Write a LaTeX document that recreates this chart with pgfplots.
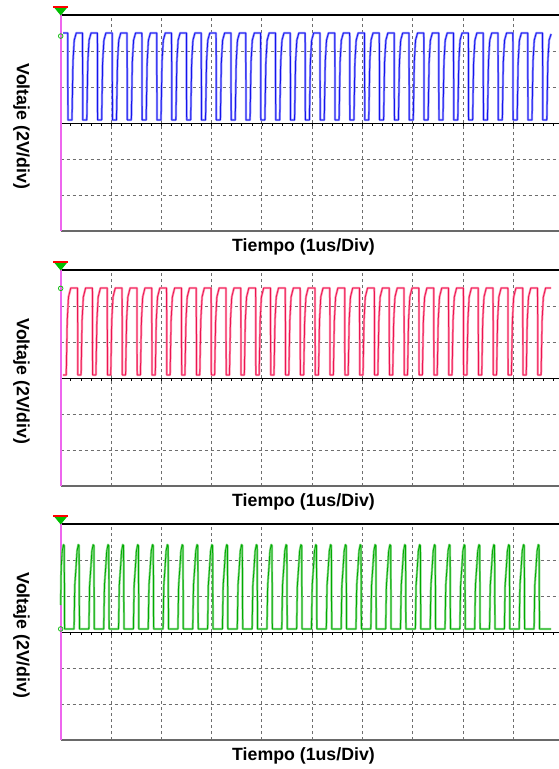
\documentclass[border=0pt]{standalone}
\usepackage{pgfplots}
\pgfplotsset{compat=1.18}
\usepackage{pgfplotstable}
\usepackage{fontspec}
\setmainfont{Liberation Sans}

\definecolor{bluecore}{RGB}{20,20,235}
\definecolor{bluehalo}{RGB}{140,140,255}
\definecolor{redcore}{RGB}{235,20,80}
\definecolor{redhalo}{RGB}{255,140,170}
\definecolor{greencore}{RGB}{0,170,0}
\definecolor{greenhalo}{RGB}{130,215,130}
\definecolor{gridgray}{RGB}{110,110,110}
\definecolor{botgray}{RGB}{105,105,105}
\definecolor{magline}{RGB}{238,102,238}
\definecolor{markgreen}{RGB}{20,190,20}

\pgfplotstableread[row sep=\\]{
x y\\
50 5\\
139 5\\144 0.17\\224 0.17\\244 3.4\\269 4.6\\309 5\\
434 5\\439 0.17\\519 0.17\\539 3.4\\564 4.6\\604 5\\
729 5\\734 0.17\\814 0.17\\834 3.4\\859 4.6\\899 5\\
1024 5\\1029 0.17\\1109 0.17\\1129 3.4\\1154 4.6\\1194 5\\
1319 5\\1324 0.17\\1404 0.17\\1424 3.4\\1449 4.6\\1489 5\\
1614 5\\1619 0.17\\1699 0.17\\1719 3.4\\1744 4.6\\1784 5\\
1909 5\\1914 0.17\\1994 0.17\\2014 3.4\\2039 4.6\\2079 5\\
2204 5\\2209 0.17\\2289 0.17\\2309 3.4\\2334 4.6\\2374 5\\
2499 5\\2504 0.17\\2584 0.17\\2604 3.4\\2629 4.6\\2669 5\\
2794 5\\2799 0.17\\2879 0.17\\2899 3.4\\2924 4.6\\2964 5\\
3089 5\\3094 0.17\\3174 0.17\\3194 3.4\\3219 4.6\\3259 5\\
3384 5\\3389 0.17\\3469 0.17\\3489 3.4\\3514 4.6\\3554 5\\
3679 5\\3684 0.17\\3764 0.17\\3784 3.4\\3809 4.6\\3849 5\\
3974 5\\3979 0.17\\4059 0.17\\4079 3.4\\4104 4.6\\4144 5\\
4269 5\\4274 0.17\\4354 0.17\\4374 3.4\\4399 4.6\\4439 5\\
4564 5\\4569 0.17\\4649 0.17\\4669 3.4\\4694 4.6\\4734 5\\
4859 5\\4864 0.17\\4944 0.17\\4964 3.4\\4989 4.6\\5029 5\\
5154 5\\5159 0.17\\5239 0.17\\5259 3.4\\5284 4.6\\5324 5\\
5449 5\\5454 0.17\\5534 0.17\\5554 3.4\\5579 4.6\\5619 5\\
5744 5\\5749 0.17\\5829 0.17\\5849 3.4\\5874 4.6\\5914 5\\
6039 5\\6044 0.17\\6124 0.17\\6144 3.4\\6169 4.6\\6209 5\\
6334 5\\6339 0.17\\6419 0.17\\6439 3.4\\6464 4.6\\6504 5\\
6629 5\\6634 0.17\\6714 0.17\\6734 3.4\\6759 4.6\\6799 5\\
6924 5\\6929 0.17\\7009 0.17\\7029 3.4\\7054 4.6\\7094 5\\
7219 5\\7224 0.17\\7304 0.17\\7324 3.4\\7349 4.6\\7389 5\\
7514 5\\7519 0.17\\7599 0.17\\7619 3.4\\7644 4.6\\7684 5\\
7809 5\\7814 0.17\\7894 0.17\\7914 3.4\\7939 4.6\\7979 5\\
8104 5\\8109 0.17\\8189 0.17\\8209 3.4\\8234 4.6\\8274 5\\
8399 5\\8404 0.17\\8484 0.17\\8504 3.4\\8529 4.6\\8569 5\\
8694 5\\8699 0.17\\8779 0.17\\8799 3.4\\8824 4.6\\8864 5\\
8989 5\\8994 0.17\\9074 0.17\\9094 3.4\\9119 4.6\\9159 5\\
9284 5\\9289 0.17\\9369 0.17\\9389 3.4\\9414 4.6\\9454 5\\
9579 5\\9584 0.17\\9664 0.17\\9684 3.4\\9709 4.6\\9749 4.95\\
}\bluedata

\pgfplotstableread[row sep=\\]{
x y\\
45 0.17\\110 0.17\\130 3.2\\155 4.5\\200 5\\
335 5\\340 0.17\\405 0.17\\425 3.2\\450 4.5\\495 5\\
630 5\\635 0.17\\700 0.17\\720 3.2\\745 4.5\\790 5\\
925 5\\930 0.17\\995 0.17\\1015 3.2\\1040 4.5\\1085 5\\
1220 5\\1225 0.17\\1290 0.17\\1310 3.2\\1335 4.5\\1380 5\\
1515 5\\1520 0.17\\1585 0.17\\1605 3.2\\1630 4.5\\1675 5\\
1810 5\\1815 0.17\\1880 0.17\\1900 3.2\\1925 4.5\\1970 5\\
2105 5\\2110 0.17\\2175 0.17\\2195 3.2\\2220 4.5\\2265 5\\
2400 5\\2405 0.17\\2470 0.17\\2490 3.2\\2515 4.5\\2560 5\\
2695 5\\2700 0.17\\2765 0.17\\2785 3.2\\2810 4.5\\2855 5\\
2990 5\\2995 0.17\\3060 0.17\\3080 3.2\\3105 4.5\\3150 5\\
3285 5\\3290 0.17\\3355 0.17\\3375 3.2\\3400 4.5\\3445 5\\
3580 5\\3585 0.17\\3650 0.17\\3670 3.2\\3695 4.5\\3740 5\\
3875 5\\3880 0.17\\3945 0.17\\3965 3.2\\3990 4.5\\4035 5\\
4170 5\\4175 0.17\\4240 0.17\\4260 3.2\\4285 4.5\\4330 5\\
4465 5\\4470 0.17\\4535 0.17\\4555 3.2\\4580 4.5\\4625 5\\
4760 5\\4765 0.17\\4830 0.17\\4850 3.2\\4875 4.5\\4920 5\\
5055 5\\5060 0.17\\5125 0.17\\5145 3.2\\5170 4.5\\5215 5\\
5350 5\\5355 0.17\\5420 0.17\\5440 3.2\\5465 4.5\\5510 5\\
5645 5\\5650 0.17\\5715 0.17\\5735 3.2\\5760 4.5\\5805 5\\
5940 5\\5945 0.17\\6010 0.17\\6030 3.2\\6055 4.5\\6100 5\\
6235 5\\6240 0.17\\6305 0.17\\6325 3.2\\6350 4.5\\6395 5\\
6530 5\\6535 0.17\\6600 0.17\\6620 3.2\\6645 4.5\\6690 5\\
6825 5\\6830 0.17\\6895 0.17\\6915 3.2\\6940 4.5\\6985 5\\
7120 5\\7125 0.17\\7190 0.17\\7210 3.2\\7235 4.5\\7280 5\\
7415 5\\7420 0.17\\7485 0.17\\7505 3.2\\7530 4.5\\7575 5\\
7710 5\\7715 0.17\\7780 0.17\\7800 3.2\\7825 4.5\\7870 5\\
8005 5\\8010 0.17\\8075 0.17\\8095 3.2\\8120 4.5\\8165 5\\
8300 5\\8305 0.17\\8370 0.17\\8390 3.2\\8415 4.5\\8460 5\\
8595 5\\8600 0.17\\8665 0.17\\8685 3.2\\8710 4.5\\8755 5\\
8890 5\\8895 0.17\\8960 0.17\\8980 3.2\\9005 4.5\\9050 5\\
9185 5\\9190 0.17\\9255 0.17\\9275 3.2\\9300 4.5\\9345 5\\
9480 5\\9485 0.17\\9550 0.17\\9570 3.2\\9595 4.5\\9640 5\\9750 5\\
}\reddata

\pgfplotstableread[row sep=\\]{
x y\\
0 1.5\\10 3.6\\30 4.5\\55 4.85\\70 4.8\\78 0.17\\
265 0.17\\280 2.6\\305 3.6\\325 4.5\\350 4.85\\365 4.8\\373 0.17\\
560 0.17\\575 2.6\\600 3.6\\620 4.5\\645 4.85\\660 4.8\\668 0.17\\
855 0.17\\870 2.6\\895 3.6\\915 4.5\\940 4.85\\955 4.8\\963 0.17\\
1150 0.17\\1165 2.6\\1190 3.6\\1210 4.5\\1235 4.85\\1250 4.8\\1258 0.17\\
1445 0.17\\1460 2.6\\1485 3.6\\1505 4.5\\1530 4.85\\1545 4.8\\1553 0.17\\
1740 0.17\\1755 2.6\\1780 3.6\\1800 4.5\\1825 4.85\\1840 4.8\\1848 0.17\\
2035 0.17\\2050 2.6\\2075 3.6\\2095 4.5\\2120 4.85\\2135 4.8\\2143 0.17\\
2330 0.17\\2345 2.6\\2370 3.6\\2390 4.5\\2415 4.85\\2430 4.8\\2438 0.17\\
2625 0.17\\2640 2.6\\2665 3.6\\2685 4.5\\2710 4.85\\2725 4.8\\2733 0.17\\
2920 0.17\\2935 2.6\\2960 3.6\\2980 4.5\\3005 4.85\\3020 4.8\\3028 0.17\\
3215 0.17\\3230 2.6\\3255 3.6\\3275 4.5\\3300 4.85\\3315 4.8\\3323 0.17\\
3510 0.17\\3525 2.6\\3550 3.6\\3570 4.5\\3595 4.85\\3610 4.8\\3618 0.17\\
3805 0.17\\3820 2.6\\3845 3.6\\3865 4.5\\3890 4.85\\3905 4.8\\3913 0.17\\
4100 0.17\\4115 2.6\\4140 3.6\\4160 4.5\\4185 4.85\\4200 4.8\\4208 0.17\\
4395 0.17\\4410 2.6\\4435 3.6\\4455 4.5\\4480 4.85\\4495 4.8\\4503 0.17\\
4690 0.17\\4705 2.6\\4730 3.6\\4750 4.5\\4775 4.85\\4790 4.8\\4798 0.17\\
4985 0.17\\5000 2.6\\5025 3.6\\5045 4.5\\5070 4.85\\5085 4.8\\5093 0.17\\
5280 0.17\\5295 2.6\\5320 3.6\\5340 4.5\\5365 4.85\\5380 4.8\\5388 0.17\\
5575 0.17\\5590 2.6\\5615 3.6\\5635 4.5\\5660 4.85\\5675 4.8\\5683 0.17\\
5870 0.17\\5885 2.6\\5910 3.6\\5930 4.5\\5955 4.85\\5970 4.8\\5978 0.17\\
6165 0.17\\6180 2.6\\6205 3.6\\6225 4.5\\6250 4.85\\6265 4.8\\6273 0.17\\
6460 0.17\\6475 2.6\\6500 3.6\\6520 4.5\\6545 4.85\\6560 4.8\\6568 0.17\\
6755 0.17\\6770 2.6\\6795 3.6\\6815 4.5\\6840 4.85\\6855 4.8\\6863 0.17\\
7050 0.17\\7065 2.6\\7090 3.6\\7110 4.5\\7135 4.85\\7150 4.8\\7158 0.17\\
7345 0.17\\7360 2.6\\7385 3.6\\7405 4.5\\7430 4.85\\7445 4.8\\7453 0.17\\
7640 0.17\\7655 2.6\\7680 3.6\\7700 4.5\\7725 4.85\\7740 4.8\\7748 0.17\\
7935 0.17\\7950 2.6\\7975 3.6\\7995 4.5\\8020 4.85\\8035 4.8\\8043 0.17\\
8230 0.17\\8245 2.6\\8270 3.6\\8290 4.5\\8315 4.85\\8330 4.8\\8338 0.17\\
8525 0.17\\8540 2.6\\8565 3.6\\8585 4.5\\8610 4.85\\8625 4.8\\8633 0.17\\
8820 0.17\\8835 2.6\\8860 3.6\\8880 4.5\\8905 4.85\\8920 4.8\\8928 0.17\\
9115 0.17\\9130 2.6\\9155 3.6\\9175 4.5\\9200 4.85\\9215 4.8\\9223 0.17\\
9410 0.17\\9425 2.6\\9450 3.6\\9470 4.5\\9495 4.85\\9510 4.8\\9518 0.17\\
9750 0.17\\
}\greendata

\newcommand{\labfont}{\bfseries\fontsize{17.8}{20}\selectfont}

\pgfplotsset{
  osc/.style={
    scale only axis, width=498.3bp, height=216bp,
    xmin=0, xmax=9906, ymin=-6, ymax=6,
    xtick={1000,2000,...,9000}, ytick={-4,-2,2,4},
    xticklabels={}, yticklabels={},
    major tick length=0pt,
    grid=major,
    major grid style={dash pattern=on 3bp off 3bp, gridgray, line width=0.9bp},
    axis line style={draw=none},
    clip=false,
  },
}

\newcommand{\panelframe}{%
  \draw[black, line width=1.1bp] (rel axis cs:0,1) -- (rel axis cs:1,1);
  \draw[botgray, line width=1.6bp] (rel axis cs:0,0) -- (rel axis cs:1,0);
  \draw[black, line width=0.9bp] (axis cs:0,0) -- (axis cs:9906,0);
  \pgfplotsinvokeforeach{200,400,...,9800}{\draw[black, line width=0.6bp] (axis cs:##1,0) -- ++(0pt,-2.5bp);}
  \draw[magline, line width=1.8bp] (rel axis cs:0,0) -- (rel axis cs:0,1) -- ++(0pt,2bp);
  \fill[green!75!black] (rel axis cs:0,1) ++(-7bp,8bp) -- ++(14bp,0pt) -- ++(-7bp,-8.5bp) -- cycle;
  \draw[red, line width=1.4bp] (rel axis cs:0,1) ++(-7.5bp,8bp) -- ++(15bp,0pt);
  \path (rel axis cs:0,0.5) ++(-39.2bp,-3.5bp) node[rotate=-90, font=\labfont] {Voltaje (2V/div)};
  \path (rel axis cs:0,0) ++(242.8bp,-20.7bp) node[anchor=base, font=\labfont] {Tiempo (1us/Div)};
}

\begin{document}
\begin{tikzpicture}
\begin{axis}[osc, at={(0,0)}, anchor=north west, name=ax1]
  \panelframe
  \addplot[bluehalo, line width=2.2bp, line join=round] table {\bluedata};
  \addplot[bluecore, line width=0.8bp, line join=round] table {\bluedata};
  \addplot[only marks, mark=o, mark size=2.3bp, markgreen, mark options={line width=0.8bp}] coordinates {(0,4.83)};
\end{axis}
\begin{axis}[osc, at={(0,-255bp)}, anchor=north west, name=ax2]
  \panelframe
  \addplot[redhalo, line width=2.2bp, line join=round] table {\reddata};
  \addplot[redcore, line width=0.8bp, line join=round] table {\reddata};
  \addplot[only marks, mark=o, mark size=2.3bp, markgreen, mark options={line width=0.8bp}] coordinates {(0,4.98)};
\end{axis}
\begin{axis}[osc, at={(0,-509bp)}, anchor=north west, name=ax3]
  \panelframe
  \addplot[greenhalo, line width=2.2bp, line join=round] table {\greendata};
  \addplot[greencore, line width=0.8bp, line join=round] table {\greendata};
  \addplot[only marks, mark=o, mark size=2.3bp, markgreen, mark options={line width=0.8bp}] coordinates {(0,0.17)};
\end{axis}
\pgfresetboundingbox
\path[use as bounding box] (-60.7bp,15bp) rectangle (498.3bp,-754bp);
\end{tikzpicture}
\end{document}
